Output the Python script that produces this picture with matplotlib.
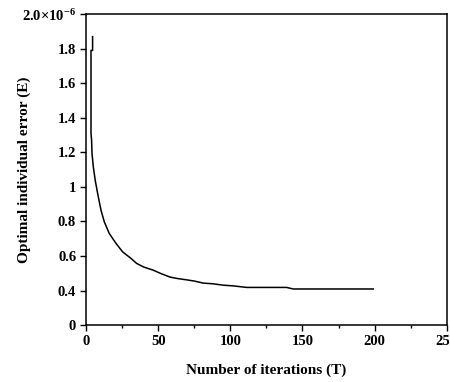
import numpy as np
import matplotlib.pyplot as plt
from matplotlib.ticker import MultipleLocator

plt.rcParams['font.family'] = ['Liberation Serif', 'DejaVu Serif']
plt.rcParams['font.weight'] = 'bold'
plt.rcParams['mathtext.fontset'] = 'custom'
plt.rcParams['mathtext.rm'] = 'Liberation Serif:bold'
plt.rcParams['mathtext.it'] = 'Liberation Serif:bold'
plt.rcParams['mathtext.bf'] = 'Liberation Serif:bold'

# values (error in units of 1e-6)
T = [4.6, 4.6, 3.5, 3.5, 3.9, 4.2, 5.1, 6.4, 8.1, 10.4, 12.7, 16.1, 20.8, 25.4,
     31.2, 35.1, 40.0, 46.6, 52.0, 58.2, 63.0, 69.7, 75.0, 81.3, 88.0, 95.1,
     102.0, 111.3, 139.0, 143.5, 199.0]
E = [1.87, 1.79, 1.79, 1.31, 1.271, 1.194, 1.116, 1.039, 0.962, 0.866, 0.798,
     0.731, 0.673, 0.624, 0.586, 0.557, 0.536, 0.518, 0.498, 0.478, 0.470,
     0.462, 0.455, 0.443, 0.439, 0.431, 0.427, 0.418, 0.418, 0.409, 0.409]

ytick_pos = [0.2, 0.4, 0.6, 0.8, 1.0, 1.2, 1.4, 1.6, 1.8, 2.0]
ytick_lab = ['0', '0.4', '0.6', '0.8', '1', '1.2', '1.4', '1.6', '1.8',
             r'2.0×10$^{-6}$']
xticks = [0, 50, 100, 150, 200, 250]

fig = plt.figure(figsize=(4.5, 3.82), dpi=100)
ax = fig.add_axes([0.191, 0.149, 0.802, 0.814])
ax.plot(T, E, color='black', lw=1.1)

ax.set_xlim(0, 250)
ax.set_ylim(0.2, 2.0)
ax.set_xticks(xticks)
ax.xaxis.set_minor_locator(MultipleLocator(25))
ax.set_yticks(ytick_pos)
ax.set_yticklabels(ytick_lab)
ax.tick_params(axis='both', which='major', direction='out', length=4,
               width=1, labelsize=10.5, pad=3)
ax.tick_params(axis='x', which='minor', direction='out', length=2, width=1)
for lab in ax.get_xticklabels() + ax.get_yticklabels():
    lab.set_fontweight('bold')
for s in ax.spines.values():
    s.set_linewidth(1.1)

ax.set_xlabel('Number of iterations (T)', fontsize=11, fontweight='bold')
ax.set_ylabel('Optimal individual error (E)', fontsize=11, fontweight='bold')
ax.xaxis.set_label_coords(0.5, -0.122)
ax.yaxis.set_label_coords(-0.152, 0.5)

fig.savefig('out.png', dpi=100)
